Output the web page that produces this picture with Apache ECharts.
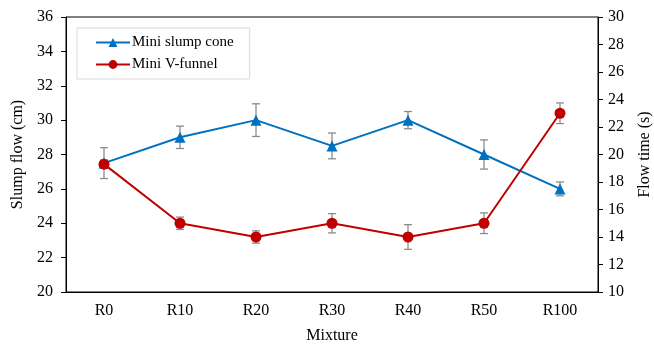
<!DOCTYPE html>
<html>
<head>
<meta charset="utf-8">
<script src="https://cdn.jsdelivr.net/npm/echarts@6/dist/echarts.min.js"></script>
<style>
  html, body { margin: 0; padding: 0; background: #fff; }
  #chart { width: 654px; height: 348px; }
</style>
</head>
<body>
<div id="chart"></div>
<script>
// values
const categories = ["R0", "R10", "R20", "R30", "R40", "R50", "R100"];
const slumpFlow = [27.5, 29, 30, 28.5, 30, 28, 26];
const slumpErr = [0.9, 0.65, 0.95, 0.75, 0.5, 0.85, 0.4];
const flowTime = [19.3, 15, 14, 15, 14, 15, 23];
const flowErr = [0.3, 0.45, 0.45, 0.7, 0.9, 0.75, 0.75];

const font = "'Liberation Serif', 'Times New Roman', serif";
const blue = "#0070C0";
const red = "#C00000";

function errData(vals, errs) {
  return vals.map((v, i) => [i, v - errs[i], v + errs[i]]);
}

function renderErr(params, api) {
  const lo = api.coord([api.value(0), api.value(1)]);
  const hi = api.coord([api.value(0), api.value(2)]);
  const cap = 4;
  const style = { stroke: "#8c8c8c", lineWidth: 1.3 };
  return {
    type: "group",
    children: [
      { type: "line", shape: { x1: lo[0], y1: lo[1], x2: hi[0], y2: hi[1] }, style },
      { type: "line", shape: { x1: lo[0] - cap, y1: lo[1], x2: lo[0] + cap, y2: lo[1] }, style },
      { type: "line", shape: { x1: hi[0] - cap, y1: hi[1], x2: hi[0] + cap, y2: hi[1] }, style },
    ],
  };
}

const chart = echarts.init(document.getElementById("chart"));
chart.setOption({
  animation: false,
  textStyle: { fontFamily: font },
  grid: {
    left: 66,
    right: 56,
    top: 17,
    bottom: 56,
    containLabel: false,
    outerBoundsMode: "none",
    show: true,
    borderColor: "#000",
    borderWidth: 1,
  },
  legend: {
    orient: "vertical",
    left: 77,
    top: 28,
    padding: [7, 16, 7, 18],
    itemGap: 7,
    itemWidth: 34,
    itemHeight: 11,
    borderColor: "#d9d9d9",
    borderWidth: 1,
    textStyle: { fontFamily: font, fontSize: 15, color: "#000", padding: [0, 0, 0, -3] },
    data: ["Mini slump cone", "Mini V-funnel"],
  },
  xAxis: {
    type: "category",
    data: categories,
    boundaryGap: true,
    name: "Mixture",
    nameLocation: "middle",
    nameGap: 36,
    nameTextStyle: { fontFamily: font, fontSize: 16, color: "#000" },
    axisLine: { lineStyle: { color: "#000", width: 1 } },
    axisTick: { show: false },
    axisLabel: { fontFamily: font, fontSize: 16, color: "#000", margin: 11 },
  },
  yAxis: [
    {
      type: "value",
      min: 20,
      max: 36,
      interval: 2,
      name: "Slump flow (cm)",
      nameLocation: "middle",
      nameGap: 36,
      nameTextStyle: { fontFamily: font, fontSize: 16, color: "#000" },
      axisLine: { show: true, lineStyle: { color: "#000" } },
      axisTick: { show: true, length: 5, lineStyle: { color: "#000" } },
      axisLabel: { fontFamily: font, fontSize: 16, color: "#000", margin: 13 },
      splitLine: { show: false },
    },
    {
      type: "value",
      min: 10,
      max: 30,
      interval: 2,
      name: "Flow time (s)",
      nameLocation: "middle",
      nameGap: 39,
      nameTextStyle: { fontFamily: font, fontSize: 16, color: "#000" },
      axisLine: { show: true, lineStyle: { color: "#000" } },
      axisTick: { show: true, length: 5, lineStyle: { color: "#000" } },
      axisLabel: { fontFamily: font, fontSize: 16, color: "#000", margin: 10 },
      splitLine: { show: false },
    },
  ],
  series: [
    {
      type: "custom",
      yAxisIndex: 0,
      renderItem: renderErr,
      data: errData(slumpFlow, slumpErr),
      z: 1,
      silent: true,
    },
    {
      type: "custom",
      yAxisIndex: 1,
      renderItem: renderErr,
      data: errData(flowTime, flowErr),
      z: 1,
      silent: true,
    },
    {
      name: "Mini slump cone",
      type: "line",
      yAxisIndex: 0,
      data: slumpFlow,
      symbol: "triangle",
      symbolSize: 11,
      lineStyle: { color: blue, width: 2 },
      itemStyle: { color: blue },
      z: 3,
    },
    {
      name: "Mini V-funnel",
      type: "line",
      yAxisIndex: 1,
      data: flowTime,
      symbol: "circle",
      symbolSize: 11,
      lineStyle: { color: red, width: 2 },
      itemStyle: { color: red },
      z: 4,
    },
  ],
});
</script>
</body>
</html>
